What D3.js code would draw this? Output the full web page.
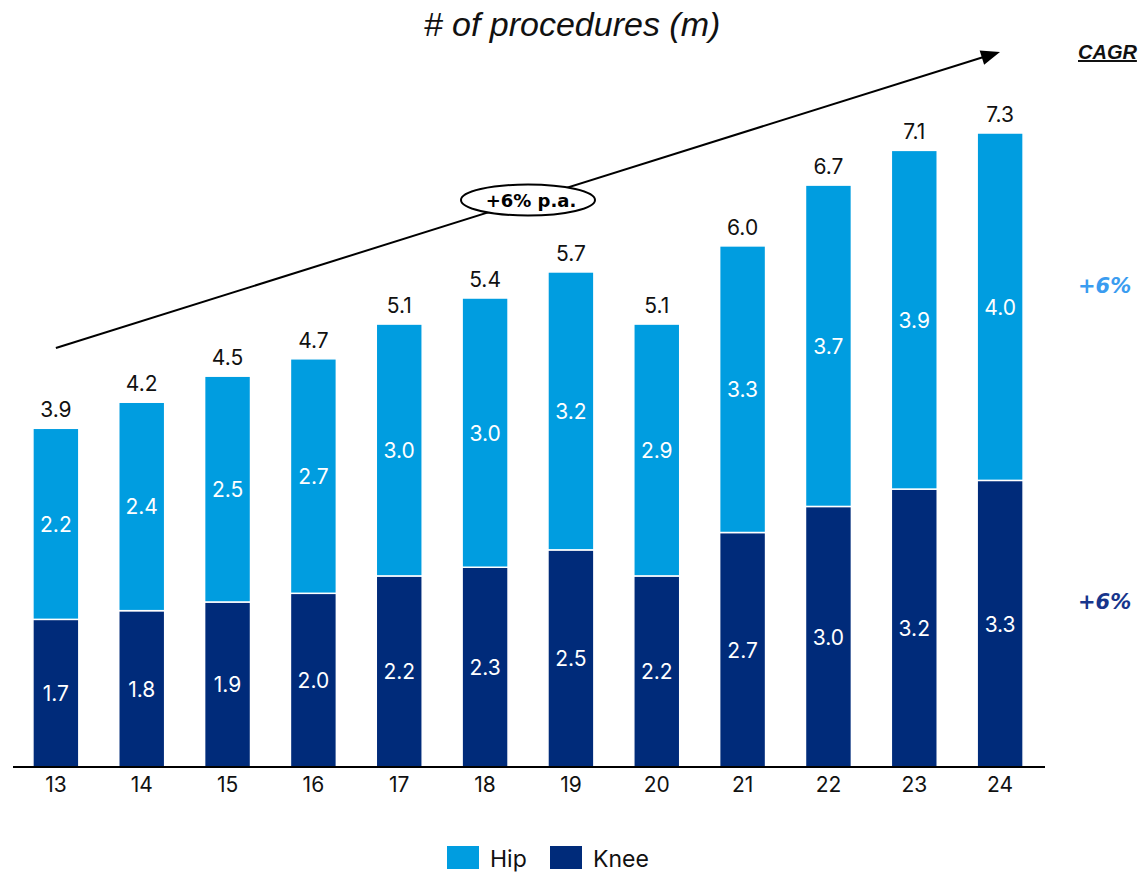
<!DOCTYPE html>
<html>
<head>
<meta charset="utf-8">
<script src="https://cdn.jsdelivr.net/npm/d3@7"></script>
<style>
  html, body { margin: 0; padding: 0; background: #fff; }
  svg { display: block; }
</style>
</head>
<body>
<svg id="chart" width="1140" height="874"></svg>
<script>
// Annual joint replacement procedures, millions
const years = ["13", "14", "15", "16", "17", "18", "19", "20", "21", "22", "23", "24"];
const knee  = [1.7, 1.8, 1.9, 2.0, 2.2, 2.3, 2.5, 2.2, 2.7, 3.0, 3.2, 3.3];
const hip   = [2.2, 2.4, 2.5, 2.7, 3.0, 3.0, 3.2, 2.9, 3.3, 3.7, 3.9, 4.0];
const totals = [3.9, 4.2, 4.5, 4.7, 5.1, 5.4, 5.7, 5.1, 6.0, 6.7, 7.1, 7.3];
const cagr = { Hip: "+6%", Knee: "+6%" };
const trendLabel = "+6% p.a.";

const colors = { Hip: "#009de0", Knee: "#002b7a" };
const cagrColors = { Hip: "#3a9cf0", Knee: "#17358c" };
const labelFont = "Inter, 'Liberation Sans', Arial, sans-serif";
const titleFont = "'Liberation Sans', Arial, sans-serif";
const wideBold = "'DejaVu Sans', Verdana, sans-serif";

const svg = d3.select("#chart");

const x = d3.scaleBand()
  .domain(years)
  .range([13, 1043])
  .paddingInner(0.465)
  .paddingOuter(0.232);

const y = d3.scaleLinear()
  .domain([0, 7.3])
  .range([767, 133]);

// Knee sits on the baseline; hip is stacked on top up to the year's total
const segments = [];
years.forEach((yr, i) => {
  segments.push({ year: yr, key: "Knee", y0: 0, y1: knee[i], value: knee[i] });
  segments.push({ year: yr, key: "Hip", y0: knee[i], y1: totals[i], value: hip[i] });
});

const bars = svg.append("g");
bars.selectAll("rect")
  .data(segments)
  .join("rect")
  .attr("x", d => x(d.year))
  .attr("width", x.bandwidth())
  .attr("y", d => y(d.y1))
  .attr("height", d => y(d.y0) - y(d.y1))
  .attr("fill", d => colors[d.key])
  .attr("stroke", "#fff")
  .attr("stroke-width", 1.5);

// Segment value labels
bars.selectAll("text")
  .data(segments)
  .join("text")
  .attr("x", d => x(d.year) + x.bandwidth() / 2)
  .attr("y", d => (y(d.y0) + y(d.y1)) / 2 + 8)
  .attr("text-anchor", "middle")
  .attr("fill", "#fff")
  .attr("font-family", labelFont)
  .attr("font-size", 21)
  .text(d => d.value.toFixed(1));

// Totals above bars
svg.append("g").selectAll("text")
  .data(totals)
  .join("text")
  .attr("x", (d, i) => x(years[i]) + x.bandwidth() / 2)
  .attr("y", d => y(d) - 11)
  .attr("text-anchor", "middle")
  .attr("fill", "#111")
  .attr("font-family", labelFont)
  .attr("font-size", 21)
  .text(d => d.toFixed(1));

// X axis
const xAxis = svg.append("g")
  .attr("transform", `translate(0,${y(0)})`)
  .call(d3.axisBottom(x).tickSize(0).tickPadding(10));
xAxis.select(".domain").attr("stroke", "#000").attr("stroke-width", 2).attr("d", "M13,0H1045");
xAxis.selectAll("text")
  .attr("font-family", labelFont)
  .attr("font-size", 21)
  .attr("fill", "#111");

// Title
svg.append("text")
  .attr("x", 572)
  .attr("y", 36)
  .attr("text-anchor", "middle")
  .attr("font-family", titleFont)
  .attr("font-style", "italic")
  .attr("font-size", 34)
  .attr("fill", "#111")
  .text("# of procedures (m)");

// Growth trend arrow
const trendStart = { x: x(years[0]) + x.bandwidth() / 2, y: 348 };
const trendEnd = { x: 1000, y: 52 };

svg.append("line")
  .attr("x1", trendStart.x)
  .attr("y1", trendStart.y)
  .attr("x2", trendEnd.x - 10)
  .attr("y2", trendEnd.y + 3)
  .attr("stroke", "#000")
  .attr("stroke-width", 2);

svg.append("path")
  .attr("d", () => {
    const ang = Math.atan2(trendEnd.y - trendStart.y, trendEnd.x - trendStart.x);
    const L = 19, W = 7.5;
    const bx = trendEnd.x - L * Math.cos(ang), by = trendEnd.y - L * Math.sin(ang);
    const px = -Math.sin(ang) * W, py = Math.cos(ang) * W;
    return `M${trendEnd.x},${trendEnd.y}L${bx + px},${by + py}L${bx - px},${by - py}Z`;
  })
  .attr("fill", "#000");

// Trend badge
svg.append("ellipse")
  .attr("cx", 528)
  .attr("cy", 200)
  .attr("rx", 67)
  .attr("ry", 15.5)
  .attr("fill", "#fff")
  .attr("stroke", "#000")
  .attr("stroke-width", 2);

svg.append("text")
  .attr("x", 531)
  .attr("y", 207)
  .attr("text-anchor", "middle")
  .attr("font-family", wideBold)
  .attr("font-weight", "bold")
  .attr("font-size", 18)
  .attr("fill", "#000")
  .text(trendLabel);

// CAGR column
svg.append("text")
  .attr("x", 1078)
  .attr("y", 59)
  .attr("font-family", titleFont)
  .attr("font-weight", "bold")
  .attr("font-style", "italic")
  .attr("font-size", 20)
  .attr("fill", "#111")
  .attr("text-decoration", "underline")
  .text("CAGR");

svg.append("text")
  .attr("x", 1078)
  .attr("y", 293)
  .attr("font-family", wideBold)
  .attr("font-weight", "bold")
  .attr("font-style", "italic")
  .attr("font-size", 21)
  .attr("fill", cagrColors.Hip)
  .text(cagr.Hip);

svg.append("text")
  .attr("x", 1078)
  .attr("y", 609)
  .attr("font-family", wideBold)
  .attr("font-weight", "bold")
  .attr("font-style", "italic")
  .attr("font-size", 21)
  .attr("fill", cagrColors.Knee)
  .text(cagr.Knee);

// Legend
const legendItems = [
  { key: "Hip", x: 447 },
  { key: "Knee", x: 550 }
];
const legend = svg.append("g").selectAll("g")
  .data(legendItems)
  .join("g")
  .attr("transform", d => `translate(${d.x},846)`);
legend.append("rect")
  .attr("width", 32)
  .attr("height", 23)
  .attr("fill", d => colors[d.key]);
legend.append("text")
  .attr("x", 43)
  .attr("y", 21)
  .attr("font-family", labelFont)
  .attr("font-size", 23)
  .attr("fill", "#111")
  .text(d => d.key);
</script>
</body>
</html>
